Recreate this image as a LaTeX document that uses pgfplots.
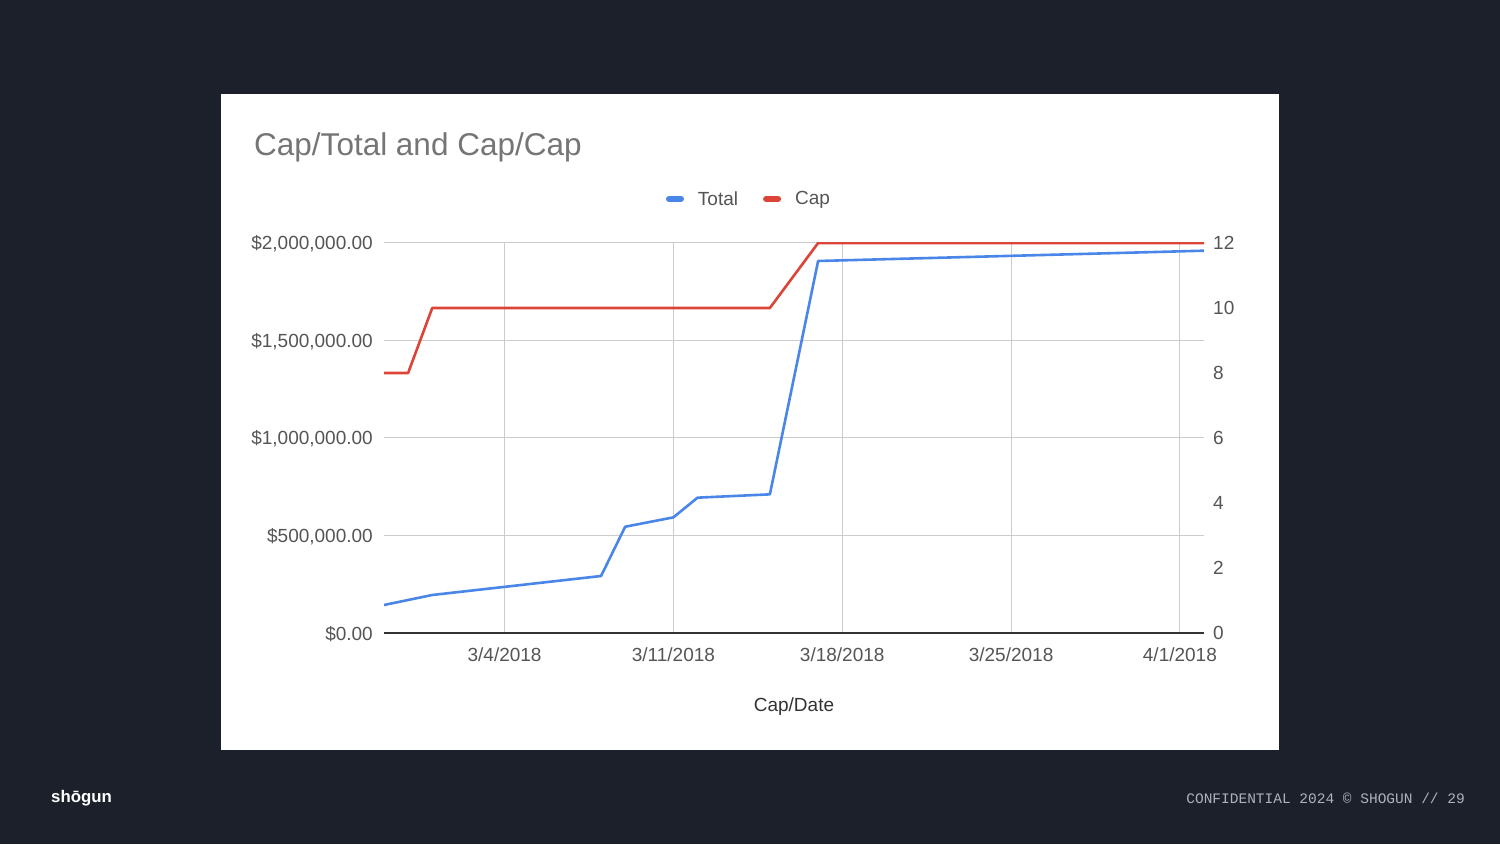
\documentclass[border=0pt]{standalone}
\usepackage{fontspec}
\setmainfont{Liberation Sans}
\newfontfamily\monofont{Liberation Mono}
\usepackage{pgfplots}
\pgfplotsset{compat=1.18}
\definecolor{bg}{HTML}{1B202B}
\definecolor{tblue}{HTML}{4A86E8}
\definecolor{cred}{HTML}{DB4437}
\definecolor{gridc}{HTML}{CCCCCC}
\definecolor{axisc}{HTML}{333333}
\definecolor{ticktxt}{HTML}{555555}
\definecolor{titletxt}{HTML}{757575}
\definecolor{foottxt}{HTML}{AEB2BA}
\begin{document}
\begin{tikzpicture}
\fill[bg] (0pt,0pt) rectangle (1500pt,844pt);
\fill[white] (221pt,94pt) rectangle (1279pt,750pt);
\node[anchor=base west, inner sep=0pt, text=titletxt, font=\fontsize{31.5}{36}\selectfont] at (254pt,688pt) {Cap/Total and Cap/Cap};
\node[anchor=base west, inner sep=0pt, text=white, font=\bfseries\fontsize{16.8}{20}\selectfont] at (51pt,42pt) {shōgun};
\node[anchor=base east, inner sep=0pt, text=foottxt, font=\monofont\fontsize{14.5}{16}\selectfont] at (1465pt,41pt) {CONFIDENTIAL 2024 © SHOGUN // 29};

\begin{axis}[
  at={(384pt,211pt)}, anchor=south west,
  scale only axis, width=820pt, height=390pt,
  xmin=-1, xmax=33, ymin=0, ymax=2000000,
  axis x line*=bottom, axis y line*=left,
  x axis line style={draw=axisc, line width=1.3pt, -},
  y axis line style={draw=none},
  xtick={4,11,18,25,32},
  xticklabels={3/4/2018,3/11/2018,3/18/2018,3/25/2018,4/1/2018},
  ytick={0,500000,1000000,1500000,2000000},
  yticklabels={{\$0.00},{\$500,000.00},{\$1,000,000.00},{\$1,500,000.00},{\$2,000,000.00}},
  scaled y ticks=false,
  major tick length=0pt, tick style={draw=none},
  xmajorgrids, ymajorgrids, grid style={draw=gridc, line width=1pt},
  tick label style={font=\fontsize{19}{22}\selectfont, text=ticktxt},
  yticklabel style={anchor=east, inner sep=0pt, xshift=-11pt, yshift=-1pt},
  xticklabel style={anchor=north, inner sep=0pt, yshift=-15pt},
  xlabel={Cap/Date},
  xlabel style={at={(axis description cs:0.5,0)}, anchor=center, yshift=-74pt, font=\fontsize{19}{22}\selectfont, text=axisc},
  legend style={draw=none, fill=none, legend columns=2, at={(axis description cs:0.4463,1.113)}, anchor=center,
    font=\fontsize{19}{22}\selectfont, text=ticktxt,
    /tikz/every odd column/.append style={column sep=10pt},
    /tikz/every even column/.append style={column sep=21pt}, nodes={inner sep=4pt}},
  legend image code/.code={\draw[#1, line width=6pt, line cap=round] (3pt,0pt) -- (15pt,0pt);},
]
\addplot[tblue, line width=2.6pt, line join=round] coordinates {
  (-1,143600) (1,194900) (8,292300) (9,545000) (11,593000) (12,694000) (15,711000) (17,1907700) (33,1960500)
};
\addlegendentry{Total}
\addlegendimage{cred, line width=2.6pt}
\addlegendentry{Cap}
\end{axis}

\begin{axis}[
  at={(384pt,211pt)}, anchor=south west,
  scale only axis, width=820pt, height=390pt,
  xmin=-1, xmax=33, ymin=0, ymax=12,
  axis x line=none, axis y line*=right,
  y axis line style={draw=none},
  ytick={0,2,4,6,8,10,12},
  major tick length=0pt, tick style={draw=none},
  /pgf/number format/assume math mode=true,
  tick label style={font=\fontsize{19}{22}\selectfont, text=ticktxt},
  yticklabel style={anchor=west, inner sep=0pt, xshift=9pt},
]
\addplot[cred, line width=2.6pt, line join=round] coordinates {
  (-1,8) (0,8) (1,10) (15,10) (17,12) (33,12)
};
\end{axis}
\end{tikzpicture}
\end{document}
